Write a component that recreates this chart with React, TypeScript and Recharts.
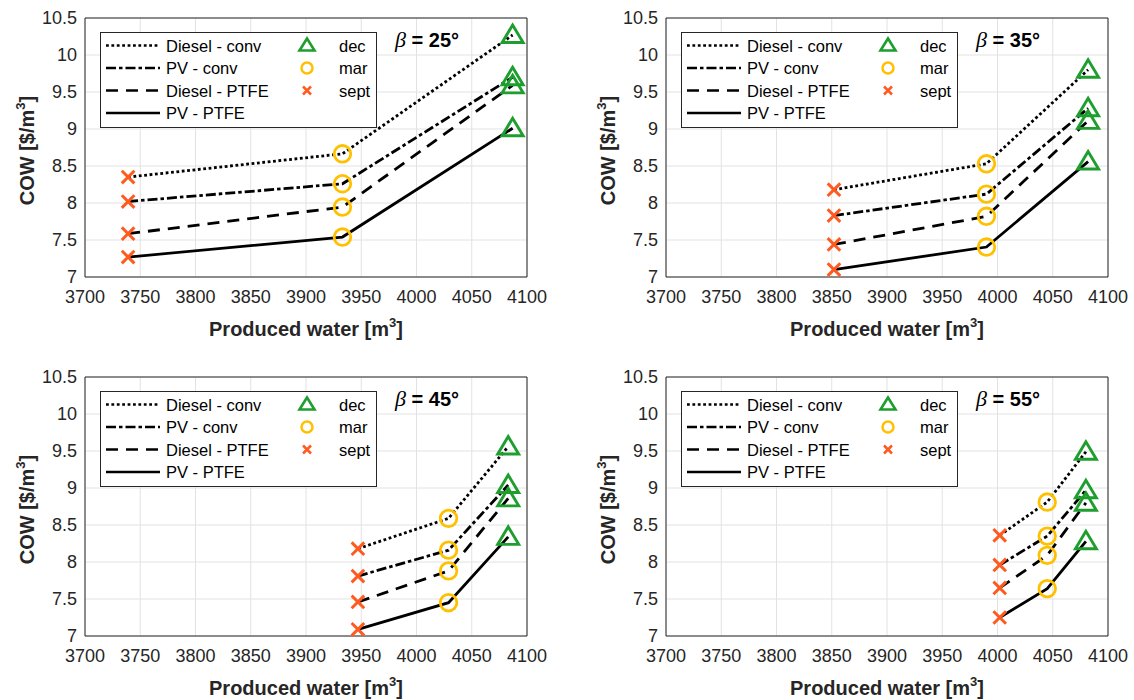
import React from "react";
import {
  LineChart,
  Line,
  XAxis,
  YAxis,
  CartesianGrid,
  ReferenceArea,
  Legend,
} from "recharts";

// axis ticks
const xTicks = [3700, 3750, 3800, 3850, 3900, 3950, 4000, 4050, 4100];
const yTicks = [7, 7.5, 8, 8.5, 9, 9.5, 10, 10.5];

const seriesNames = ["Diesel - conv", "PV - conv", "Diesel - PTFE", "PV - PTFE"];
const seriesKeys = ["dieselConv", "pvConv", "dieselPtfe", "pvPtfe"];
// month of each point, in order of increasing produced water
const pointMonths = ["sept", "mar", "dec"];
const legendMonths = ["dec", "mar", "sept"];

// beta = 25
const water25 = [3739, 3933, 4087];
const dieselConv25 = [8.35, 8.665, 10.27];
const pvConv25 = [8.02, 8.26, 9.7];
const dieselPtfe25 = [7.585, 7.945, 9.59];
const pvPtfe25 = [7.27, 7.54, 9.01];

// beta = 35
const water35 = [3852, 3990, 4082];
const dieselConv35 = [8.18, 8.53, 9.8];
const pvConv35 = [7.83, 8.12, 9.28];
const dieselPtfe35 = [7.44, 7.82, 9.11];
const pvPtfe35 = [7.1, 7.405, 8.56];

// beta = 45
const water45 = [3947, 4029, 4083];
const dieselConv45 = [8.18, 8.59, 9.56];
const pvConv45 = [7.81, 8.16, 9.04];
const dieselPtfe45 = [7.46, 7.88, 8.86];
const pvPtfe45 = [7.09, 7.45, 8.34];

// beta = 55
const water55 = [4002, 4045, 4080];
const dieselConv55 = [8.36, 8.81, 9.49];
const pvConv55 = [7.96, 8.35, 8.97];
const dieselPtfe55 = [7.65, 8.09, 8.8];
const pvPtfe55 = [7.25, 7.64, 8.28];

const panels = [
  { beta: 25, water: water25, series: [dieselConv25, pvConv25, dieselPtfe25, pvPtfe25] },
  { beta: 35, water: water35, series: [dieselConv35, pvConv35, dieselPtfe35, pvPtfe35] },
  { beta: 45, water: water45, series: [dieselConv45, pvConv45, dieselPtfe45, pvPtfe45] },
  { beta: 55, water: water55, series: [dieselConv55, pvConv55, dieselPtfe55, pvPtfe55] },
];

const dashes: (string | undefined)[] = ["2.8 2.6", "10 3 3.5 3", "12 8", undefined];
const monthColor: Record<string, string> = {
  sept: "#FF5A1F",
  mar: "#FFC000",
  dec: "#1E9E2E",
};

const FONT = "'Liberation Sans', Arial, Helvetica, sans-serif";
const AXIS = "#262626";

const CHART_W = 567;
const CHART_H = 350;
const PLOT_TOP = 18;
const PLOT_H = 259;
const PLOT_W = 442;

const MarkerShape = ({ month, cx, cy, small }: { month: string; cx: number; cy: number; small?: boolean }) => {
  const color = monthColor[month];
  if (month === "sept") {
    const h = small ? 4 : 6.3;
    return (
      <path
        d={`M${cx - h},${cy - h}L${cx + h},${cy + h}M${cx - h},${cy + h}L${cx + h},${cy - h}`}
        stroke={color}
        strokeWidth={small ? 2.5 : 3}
        fill="none"
      />
    );
  }
  if (month === "mar") {
    return <circle cx={cx} cy={cy} r={small ? 5.5 : 8.3} stroke={color} strokeWidth={small ? 2.5 : 2.8} fill="none" />;
  }
  const w = small ? 7.5 : 10.5;
  const up = small ? 7 : 10;
  const down = small ? 5 : 7.5;
  return (
    <polygon
      points={`${cx},${cy - up} ${cx - w},${cy + down} ${cx + w},${cy + down}`}
      stroke={color}
      strokeWidth={small ? 2.6 : 2.9}
      strokeLinejoin="miter"
      fill="none"
    />
  );
};

const renderDot = (props: any) => {
  const { cx, cy, index } = props;
  if (cx == null || cy == null) return <g key={`d-${index}`} />;
  return (
    <g key={`d-${index}`}>
      <MarkerShape month={pointMonths[index]} cx={cx} cy={cy} />
    </g>
  );
};

const LegendBox = () => {
  const rows = [13.5, 36, 58.5, 81];
  return (
    <svg width={277} height={96} style={{ display: "block", fontFamily: FONT }}>
      <rect x={0.5} y={0.5} width={276} height={95} fill="#fff" stroke={AXIS} strokeWidth={1} />
      {seriesNames.map((name, i) => (
        <g key={name}>
          <line
            x1={6}
            x2={60}
            y1={rows[i]}
            y2={rows[i]}
            stroke="#000"
            strokeWidth={2.7}
            strokeDasharray={dashes[i]}
          />
          <text x={66} y={rows[i] + 6} fontSize={16.5} fill="#000">
            {name}
          </text>
        </g>
      ))}
      {legendMonths.map((m, i) => (
        <g key={m}>
          <MarkerShape month={m} cx={207} cy={rows[i]} small />
          <text x={239} y={rows[i] + 6} fontSize={16.5} fill="#000">
            {m}
          </text>
        </g>
      ))}
    </svg>
  );
};

const Panel = ({ panel, col, top }: { panel: (typeof panels)[number]; col: number; top: number }) => {
  const plotLeft = col === 0 ? 85 : 99;
  const plotRight = plotLeft + PLOT_W;
  const rows = panel.water.map((w, i) => {
    const row: Record<string, number> = { water: w };
    seriesKeys.forEach((k, s) => {
      row[k] = panel.series[s][i];
    });
    return row;
  });

  const xLabel = () => (
    <text
      x={(plotLeft + plotRight) / 2}
      y={336}
      textAnchor="middle"
      fontSize={20}
      fontWeight="bold"
      fill={AXIS}
      fontFamily={FONT}
    >
      Produced water [m
      <tspan dy={-9} fontSize={13}>
        3
      </tspan>
      <tspan dy={9}>]</tspan>
    </text>
  );

  const yLabel = () => {
    const cx = plotLeft - 58;
    const cy = PLOT_TOP + PLOT_H / 2 + 3;
    return (
      <text
        x={cx}
        y={cy}
        transform={`rotate(-90, ${cx}, ${cy})`}
        textAnchor="middle"
        fontSize={20}
        fontWeight="bold"
        fill={AXIS}
        fontFamily={FONT}
        dy={7}
      >
        COW [$/m
        <tspan dy={-9} fontSize={13}>
          3
        </tspan>
        <tspan dy={9}>]</tspan>
      </text>
    );
  };

  return (
    <div style={{ position: "absolute", left: col * CHART_W, top, width: CHART_W, height: CHART_H }}>
      <LineChart
        width={CHART_W}
        height={CHART_H}
        data={rows}
        margin={{ top: PLOT_TOP, right: CHART_W - plotRight, bottom: CHART_H - PLOT_TOP - PLOT_H - 30, left: plotLeft - 60 }}
      >
        <CartesianGrid stroke="#e2e2e2" strokeWidth={1} />
        <XAxis
          dataKey="water"
          type="number"
          domain={[3700, 4100]}
          ticks={xTicks}
          interval={0}
          height={30}
          axisLine={false}
          tickLine={false}
          tickMargin={7}
          tick={{ fontSize: 18, fill: AXIS, fontFamily: FONT }}
          label={xLabel}
        />
        <YAxis
          type="number"
          domain={[7, 10.5]}
          ticks={yTicks}
          interval={0}
          width={60}
          axisLine={false}
          tickLine={false}
          tickMargin={2}
          tick={{ fontSize: 18, fill: AXIS, fontFamily: FONT }}
          label={yLabel}
        />
        <ReferenceArea x1={3700} x2={4100} y1={7} y2={10.5} fill="none" stroke={AXIS} strokeWidth={1} strokeOpacity={1} fillOpacity={0} />
        {seriesKeys.map((k, i) => (
          <Line
            key={k}
            dataKey={k}
            name={seriesNames[i]}
            type="linear"
            stroke="#000"
            strokeWidth={2.8}
            strokeDasharray={dashes[i]}
            dot={renderDot}
            activeDot={false}
            isAnimationActive={false}
          />
        ))}
        <Legend
          layout="horizontal"
          verticalAlign="middle"
          align="center"
          content={() => <LegendBox />}
          wrapperStyle={{ position: "absolute", left: plotLeft + 15, top: 32, width: 277, height: 96 }}
        />
      </LineChart>
      <div
        style={{
          position: "absolute",
          left: plotLeft + 310,
          top: 26,
          fontFamily: FONT,
          fontSize: 20,
          color: "#000",
          whiteSpace: "nowrap",
          lineHeight: "28px",
        }}
      >
        <span style={{ fontStyle: "italic", fontFamily: "'Liberation Serif', 'Times New Roman', serif", fontSize: 22 }}>β</span>
        <span style={{ fontWeight: "bold" }}> = {panel.beta}°</span>
      </div>
    </div>
  );
};

export default function App() {
  return (
    <div style={{ position: "absolute", left: 0, top: 0, width: 1134, height: 700, background: "#fff" }}>
      <Panel panel={panels[0]} col={0} top={0} />
      <Panel panel={panels[1]} col={1} top={0} />
      <Panel panel={panels[2]} col={0} top={359} />
      <Panel panel={panels[3]} col={1} top={359} />
    </div>
  );
}
